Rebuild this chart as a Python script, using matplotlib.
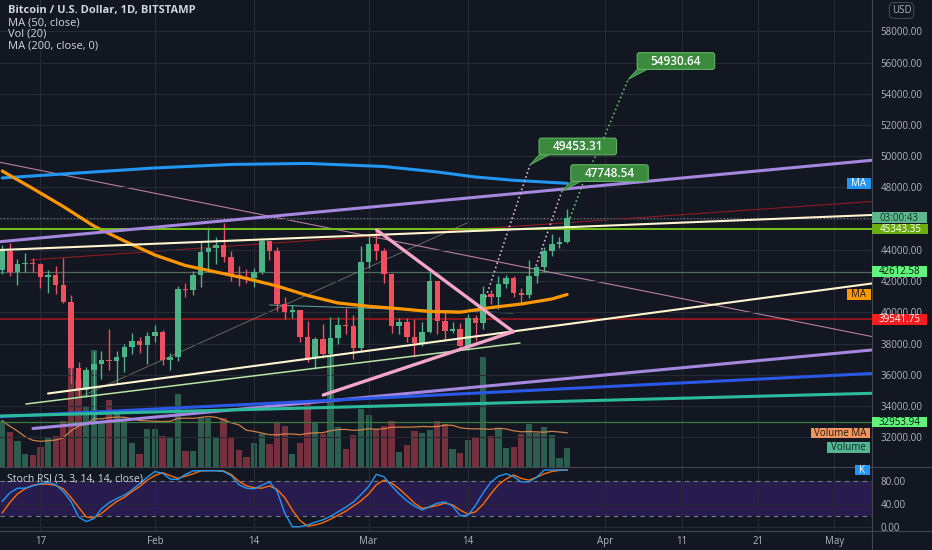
import numpy as np
import pandas as pd
import matplotlib
matplotlib.use('Agg')
import matplotlib.pyplot as plt
import matplotlib.transforms as mtransforms
from matplotlib.patches import Rectangle, FancyBboxPatch, Polygon
from matplotlib.lines import Line2D

plt.rcParams['font.family'] = ['Open Sans', 'DejaVu Sans']

# ------------------------------------------------------------------
# data: BTC/USD daily, Bitstamp
dates = pd.date_range('2022-01-12', '2022-03-27', freq='D')
start = pd.Timestamp('2022-01-17')
days = (dates - start).days.to_numpy()

opens = [42735, 43949, 42591, 43099, 43177, 43113, 42250, 42375, 41744, 40680,
         36457, 35030, 36276, 36654, 36954, 36852, 37138, 37784, 38138, 37917,
         38483, 38743, 36952, 37154, 41500, 41441, 42412, 43840, 44118, 44338,
         43565, 42407, 42244, 42197, 42586, 44575, 43961, 40538, 40030, 40122,
         38431, 37075, 38286, 37296, 38332, 39214, 39105, 37710, 43194, 44354,
         43925, 42451, 39138, 39400, 38419, 38062, 38737, 41982, 39437, 38794,
         38904, 37849, 39666, 39338, 41143, 40951, 41801, 42190, 41247, 41077,
         42358, 42892, 43960, 44349, 44500]
closes = [43949, 42591, 43099, 43177, 43113, 42250, 42375, 41744, 40680, 36457,
          35030, 36276, 36654, 36954, 36852, 37138, 37784, 38138, 37917, 38483,
          38743, 36952, 37154, 41500, 41441, 42412, 43840, 44118, 44338, 43565,
          42407, 42244, 42197, 42586, 44575, 43961, 40538, 40030, 40122, 38431,
          37075, 38286, 37296, 38332, 39214, 39105, 37710, 43194, 44354, 43925,
          42451, 39138, 39400, 38419, 38062, 38737, 41982, 39437, 38794, 38904,
          37849, 39666, 39338, 41143, 40951, 41801, 42190, 41247, 41077, 42358,
          42892, 43960, 44349, 44500, 46064]
highs = [44322, 44458, 43448, 43800, 43478, 43180, 42680, 43000, 43500, 41100,
         36800, 36500, 37550, 37500, 38920, 37500, 38000, 38700, 38400, 38740,
         39200, 38850, 37400, 41700, 41900, 42650, 44500, 45500, 44800, 45700,
         43900, 43000, 42750, 42850, 44750, 44600, 44200, 40950, 40450, 40150,
         39450, 38400, 39250, 39700, 39700, 40300, 39850, 44250, 44950, 45400,
         44100, 42500, 39650, 39650, 39550, 39400, 42600, 42000, 40150, 39350,
         39300, 39900, 39850, 41700, 41450, 42300, 42400, 42300, 41550, 43350,
         43000, 44200, 45000, 44800, 46620]
lows = [42450, 42311, 41725, 42600, 42613, 41540, 41250, 41160, 40600, 35500,
        34600, 34600, 32954, 35700, 36300, 35500, 36200, 37300, 37400, 36700,
        38100, 36600, 36300, 36900, 40950, 41100, 41650, 42700, 43100, 43200,
        42000, 41700, 41900, 41600, 42450, 43350, 40100, 39600, 39650, 38100,
        36800, 36350, 37050, 34320, 38000, 38600, 37000, 37450, 42850, 43350,
        41850, 38650, 38600, 38100, 37150, 37870, 38650, 38600, 38250, 38700,
        37600, 37600, 38150, 38950, 40550, 40200, 41550, 40950, 40550, 40900,
        41850, 42580, 43600, 44100, 44450]
volumes = [4600, 3500, 2600, 1300, 1200, 2000, 3000, 3100, 4600, 10000,
           8800, 6000, 11700, 4600, 6700, 5600, 4700, 2400, 1300, 3800,
           3800, 3100, 3000, 7300, 1600, 1600, 4900, 4900, 3000, 4900,
           3000, 1700, 1000, 2400, 3300, 2300, 4400, 4100, 1300, 2400,
           6300, 4400, 3300, 11100, 4000, 1800, 3200, 5800, 5200, 3800,
           4100, 4600, 1500, 2200, 3600, 3400, 3700, 4600, 4300, 1800,
           1400, 2700, 2900, 11000, 3100, 3900, 1900, 2000, 3300, 4300,
           3400, 4000, 3200, 900, 1900]

# moving averages read at sample days (days from Jan 17)
ma50_days = [-5, -1, 3, 7, 11, 15, 19, 23, 27, 31, 35, 39, 43, 47, 51, 55, 59, 63, 67, 69]
ma50_vals = [49058, 47936, 46782, 45532, 44571, 43673, 43000, 42583, 42167, 41686,
             41077, 40596, 40385, 40231, 40051, 40006, 40301, 40532, 40853, 41141]
ma200_days = [-5, 5, 15, 25, 35, 45, 52, 57, 62, 69]
ma200_vals = [48612, 48932, 49253, 49478, 49542, 49346, 48994, 48673, 48462, 48269]

stoch_k = [45, 60, 68, 68, 72, 76, 78, 74, 62, 45, 18, 10, 15, 32, 43, 50, 56, 65, 76, 87,
           97, 94, 84, 83, 92, 98, 98.5, 98.5, 98.5, 97, 90, 74, 68, 67, 73, 79, 63, 25, 1, 1,
           4, 9, 13, 19, 27, 35, 44, 57, 71, 92, 88, 72, 58, 46, 37, 30, 36, 42, 44, 37,
           20, 21, 38, 60, 78, 89, 93, 88, 79, 79, 87, 99.7, 99.7, 99.7, 99.7]
stoch_d = [25, 43, 58, 67, 73, 75, 75, 73, 67, 52, 35, 18, 16, 24, 35, 45, 52, 62, 71, 82,
           90, 95, 90, 85, 89, 93, 98, 98.5, 98.5, 98, 92, 80, 72, 69, 68, 72, 66, 52, 30, 12,
           2, 4, 8, 14, 21, 28, 37, 46, 58, 74, 82, 77, 67, 55, 42, 33, 35, 38, 42, 39,
           30, 23, 27, 40, 58, 74, 84, 91, 85, 82, 87, 93, 97, 99, 99.7]

# horizontal levels
level_lime = 45343.35
level_green = 42612.58
level_red = 39541.75
level_low = 32953.94

# trend line drawings: (day, price)
purple_upper = [(-5.3, 44526), (108.9, 49744)]
cream_upper = [(-5.3, 43994), (108.9, 46237)]
darkred_thin = [(-1.36, 43353), (108.9, 47103)]
mauve_thin = [(-5.3, 49615), (108.9, 38449)]
faint_grey = [(5.19, 34571), (55.88, 45724)]
cream_lower = [(1.0, 34795), (108.9, 41846)]
pale_green = [(-1.89, 34122), (62.83, 38032)]
purple_lower = [(-0.97, 32551), (108.9, 37583)]
blue_lower = [(-5.3, 33308), (108.9, 36077)]
teal_lower = [(-5.3, 33353), (108.9, 34808)]
teal_short = [(30.08, 40468), (61.9, 39955)]
pink_top = [(44.05, 45276), (61.95, 38757)]
pink_bottom = [(37.06, 34699), (61.95, 38757)]

# projected paths to the targets
proj_a = [(58.37, 40981), (64.14, 49453.31)]
proj_b = [(64.92, 42968), (68.3, 47748.54)]
proj_c = [(69.37, 46045), (71.08, 48288), (73.7, 51045), (77.0, 54930.64)]

tick_dates = pd.to_datetime(['2022-01-17', '2022-02-01', '2022-02-14', '2022-03-01', '2022-03-14',
                             '2022-04-01', '2022-04-11', '2022-04-21', '2022-05-01'])
tick_labels = ['17', 'Feb', '14', 'Mar', '14', 'Apr', '11', '21', 'May']
tick_days = (tick_dates - start).days.to_numpy()
price_ticks = np.arange(32000, 58001, 2000)
hidden_price_ticks = [46000]  # covered by the countdown tag on the chart
stoch_ticks = [0, 40, 80]

# ------------------------------------------------------------------
W, H = 932, 550
BG = '#131722'
GRID = '#262a35'
TXT = '#b2b5be'
SEP = '#434651'
UP, DOWN = '#4bb384', '#ef4f5e'

plot_r = 871.7
price_b = 466.7
stoch_b = 530.7

fig = plt.figure(figsize=(W / 100, H / 100), dpi=100, facecolor=BG)
ax_v = fig.add_axes([0, 1 - price_b / H, plot_r / W, price_b / H])
ax_p = fig.add_axes([0, 1 - price_b / H, plot_r / W, price_b / H], sharex=ax_v)
ax_s = fig.add_axes([0, 1 - stoch_b / H, plot_r / W, (stoch_b - price_b) / H], sharex=ax_v)

ax_v.set_facecolor(BG)
ax_p.patch.set_visible(False)
ax_s.set_facecolor(BG)
for a in (ax_v, ax_p, ax_s):
    for s in a.spines.values():
        s.set_visible(False)

ax_v.set_xlim(-5.29, 108.9)
ax_p.set_ylim(30102.6, 60019.2)
ax_v.set_ylim(0, 46670)
ax_s.set_ylim(-5.9, 105.4)

ax_s.set_xticks(tick_days)
ax_s.set_xticklabels(tick_labels)
ax_s.tick_params(axis='x', length=0, pad=4, labelsize=7, labelcolor=TXT)
ax_p.tick_params(axis='x', labelbottom=False, length=0)
ax_v.tick_params(axis='x', labelbottom=False, length=0)
ax_v.set_yticks([])

ax_p.yaxis.tick_right()
ax_p.set_yticks(price_ticks)
ax_p.set_yticklabels(['' if t in hidden_price_ticks else '%.2f' % t for t in price_ticks])
ax_p.tick_params(axis='y', length=0, pad=6.5, labelsize=7, labelcolor=TXT)
ax_s.yaxis.tick_right()
ax_s.set_yticks(stoch_ticks)
ax_s.set_yticklabels(['%.2f' % t for t in stoch_ticks])
ax_s.tick_params(axis='y', length=0, pad=6.5, labelsize=7, labelcolor=TXT)

ax_v.grid(axis='x', color=GRID, lw=0.8)
ax_v.set_xticks(tick_days)
ax_p.grid(axis='y', color=GRID, lw=0.8)
ax_s.grid(color=GRID, lw=0.8)

# volume
o = np.array(opens, float)
c = np.array(closes, float)
colors = np.where(c >= o, UP, DOWN)
ax_v.bar(days, volumes, width=0.82, color=colors, alpha=0.45, linewidth=0)
vol_ma = pd.Series(volumes).rolling(20, min_periods=1).mean()
ax_v.plot(days, vol_ma, color='#e08a4c', lw=0.9, alpha=0.9)

# horizontal levels
ax_p.axhline(level_green, color='#4d6b5a', lw=0.9, zorder=1)
ax_p.axhline(level_red, color='#a8181c', lw=1.1, zorder=1)
ax_p.axhline(level_low, color='#3c7a3a', lw=0.9, zorder=1)
ax_p.axhline(closes[-1], color='#8a8e99', lw=0.8, ls=(0, (1, 2)), zorder=1)

# faint / thin drawings under candles
for pts, col, lw, al in [(faint_grey, '#8c8a78', 0.7, 0.7),
                         (mauve_thin, '#c98aae', 0.8, 0.9),
                         (darkred_thin, '#8b1c22', 0.8, 1.0),
                         (teal_short, '#5fa7a4', 0.8, 0.9)]:
    xs, ys = zip(*pts)
    ax_p.plot(xs, ys, color=col, lw=lw, alpha=al, zorder=1.5)

# candles
ax_p.vlines(days, lows, highs, colors=colors, lw=1.0, zorder=3)
body_lo = np.minimum(o, c)
body_h = np.maximum(np.abs(c - o), 70)
ax_p.bar(days, body_h, bottom=body_lo, width=0.72, color=colors, linewidth=0, zorder=3.1)

# moving averages
ax_p.plot(ma200_days, ma200_vals, color='#2196f3', lw=2.2, zorder=3.5, solid_capstyle='round')
ax_p.plot(ma50_days, ma50_vals, color='#ff9800', lw=2.3, zorder=3.5, solid_capstyle='round')

# main drawings
ax_p.axhline(level_lime, color='#76c11a', lw=1.4, zorder=4)
for pts, col, lw in [(cream_upper, '#fff5cf', 1.5),
                     (purple_upper, '#a587df', 2.2),
                     (cream_lower, '#fff5cf', 1.5),
                     (pale_green, '#b8e3a6', 1.1),
                     (purple_lower, '#a587df', 2.2),
                     (blue_lower, '#2a58e6', 2.2),
                     (teal_lower, '#2bbb9b', 2.2),
                     (pink_top, '#f4a6c8', 2.4),
                     (pink_bottom, '#f4a6c8', 2.4)]:
    xs, ys = zip(*pts)
    ax_p.plot(xs, ys, color=col, lw=lw, zorder=4, solid_capstyle='round')

for pts, col in [(proj_a, '#dcaee3'), (proj_b, '#dcaee3'), (proj_c, '#66bb6a')]:
    xs, ys = zip(*pts)
    ax_p.plot(xs, ys, color=col, lw=1.2, ls=(0, (1, 1.6)), zorder=4.5)

# stoch rsi
ax_s.axhspan(20, 80, color='#5b2ab8', alpha=0.3, lw=0, zorder=1)
ax_s.axhline(80, color='#787b86', lw=0.8, ls=(0, (4, 4)), zorder=2)
ax_s.axhline(20, color='#787b86', lw=0.8, ls=(0, (4, 4)), zorder=2)
ax_s.plot(days, stoch_d, color='#ff6d00', lw=1.0, zorder=3)
ax_s.plot(days, stoch_k, color='#2196f3', lw=1.0, zorder=3)

# ------------------------------------------------------------------
ident = mtransforms.IdentityTransform()


def disp_y(ax, value):
    return ax.transData.transform((0, value))[1]


def tag(x0, x1, yc, text, bg, fg, h=10.5, size=7):
    fig.add_artist(Rectangle((x0, yc - h / 2), x1 - x0, h, transform=ident,
                             facecolor=bg, edgecolor='none', zorder=20))
    fig.add_artist(plt.Text((x0 + x1) / 2, yc - 0.3, text, transform=ident, ha='center',
                            va='center', color=fg, fontsize=size, zorder=21))


# callouts for targets
for pts in (proj_a, proj_b, proj_c):
    day, price = pts[-1]
    ax_, ay_ = ax_p.transData.transform((day, price))
    fig.add_artist(Polygon([(ax_, ay_), (ax_ + 10, ay_ + 11), (ax_ + 21, ay_ + 11)],
                           closed=True, transform=ident, facecolor='#3b8a3e',
                           edgecolor='#5fb462', lw=0.6, zorder=10))
    fig.add_artist(FancyBboxPatch((ax_ + 9, ay_ + 10), 77.5, 16.7,
                                  boxstyle='round,pad=0,rounding_size=2.5', transform=ident,
                                  facecolor='#3b8a3e', edgecolor='#5fb462', lw=0.8, zorder=11))
    fig.add_artist(plt.Text(ax_ + 9 + 38.75, ay_ + 10 + 8.0, '%.2f' % price, transform=ident,
                            ha='center', va='center', color='white', fontsize=8.5,
                            fontweight='semibold', zorder=12))

# right side tags
tag(847.3, 870.7, disp_y(ax_p, ma200_vals[-1]), 'MA', '#2196f3', 'white')
tag(847.3, 870.7, disp_y(ax_p, ma50_vals[-1]), 'MA', '#ff9800', '#1e1e1e')
tag(872.3, 926.7, disp_y(ax_p, closes[-1]), '03:00:43', '#5cb78c', '#17352a')
tag(872.3, 928.3, disp_y(ax_p, level_lime), '%.2f' % level_lime, '#6aad0c', 'white')
tag(872.3, 927.3, disp_y(ax_p, level_green), '%.2f' % level_green, '#5ef57a', '#0d1a10')
tag(872.3, 927.3, disp_y(ax_p, level_red), '%.2f' % level_red, '#f51d1d', 'white')
tag(872.3, 927.3, disp_y(ax_p, level_low), '%.2f' % level_low, '#5ef57a', '#0d1a10')
tag(810.7, 870.0, disp_y(ax_v, vol_ma.iloc[-1]), 'Volume MA', '#f0965e', '#2a1a10')
tag(826.7, 870.0, disp_y(ax_v, volumes[-1]), 'Volume', '#55b491', '#0f2a20')
tag(855.0, 870.0, disp_y(ax_s, stoch_k[-1]), 'K', '#2196f3', 'white')

# separators
fig.add_artist(Line2D([plot_r / W, plot_r / W], [0, 1], color=SEP, lw=0.8))
for yy in (price_b, stoch_b):
    fig.add_artist(Line2D([0, 1], [1 - yy / H, 1 - yy / H], color=SEP, lw=0.8))

# header texts
fig.text(8 / W, 1 - 11 / H, 'Bitcoin / U.S. Dollar, 1D, BITSTAMP', color='#d1d4dc',
         fontsize=8, fontweight='bold', va='center')
for yy, s in [(23, 'MA (50, close)'), (34.5, 'Vol (20)'), (46.5, 'MA (200, close, 0)')]:
    fig.text(8 / W, 1 - yy / H, s, color='#d1d4dc', fontsize=8, va='center')
fig.text(7 / W, 1 - 479 / H, 'Stoch RSI (3, 3, 14, 14, close)', color='#d1d4dc',
         fontsize=7.5, va='center')
fig.text(901.5 / W, 1 - 10.5 / H, 'USD', color=TXT, fontsize=7, ha='center', va='center',
         bbox=dict(boxstyle='round,pad=0.25,rounding_size=0.5', fc=BG, ec=SEP, lw=0.8))

fig.savefig('out.png', dpi=100, facecolor=BG)
